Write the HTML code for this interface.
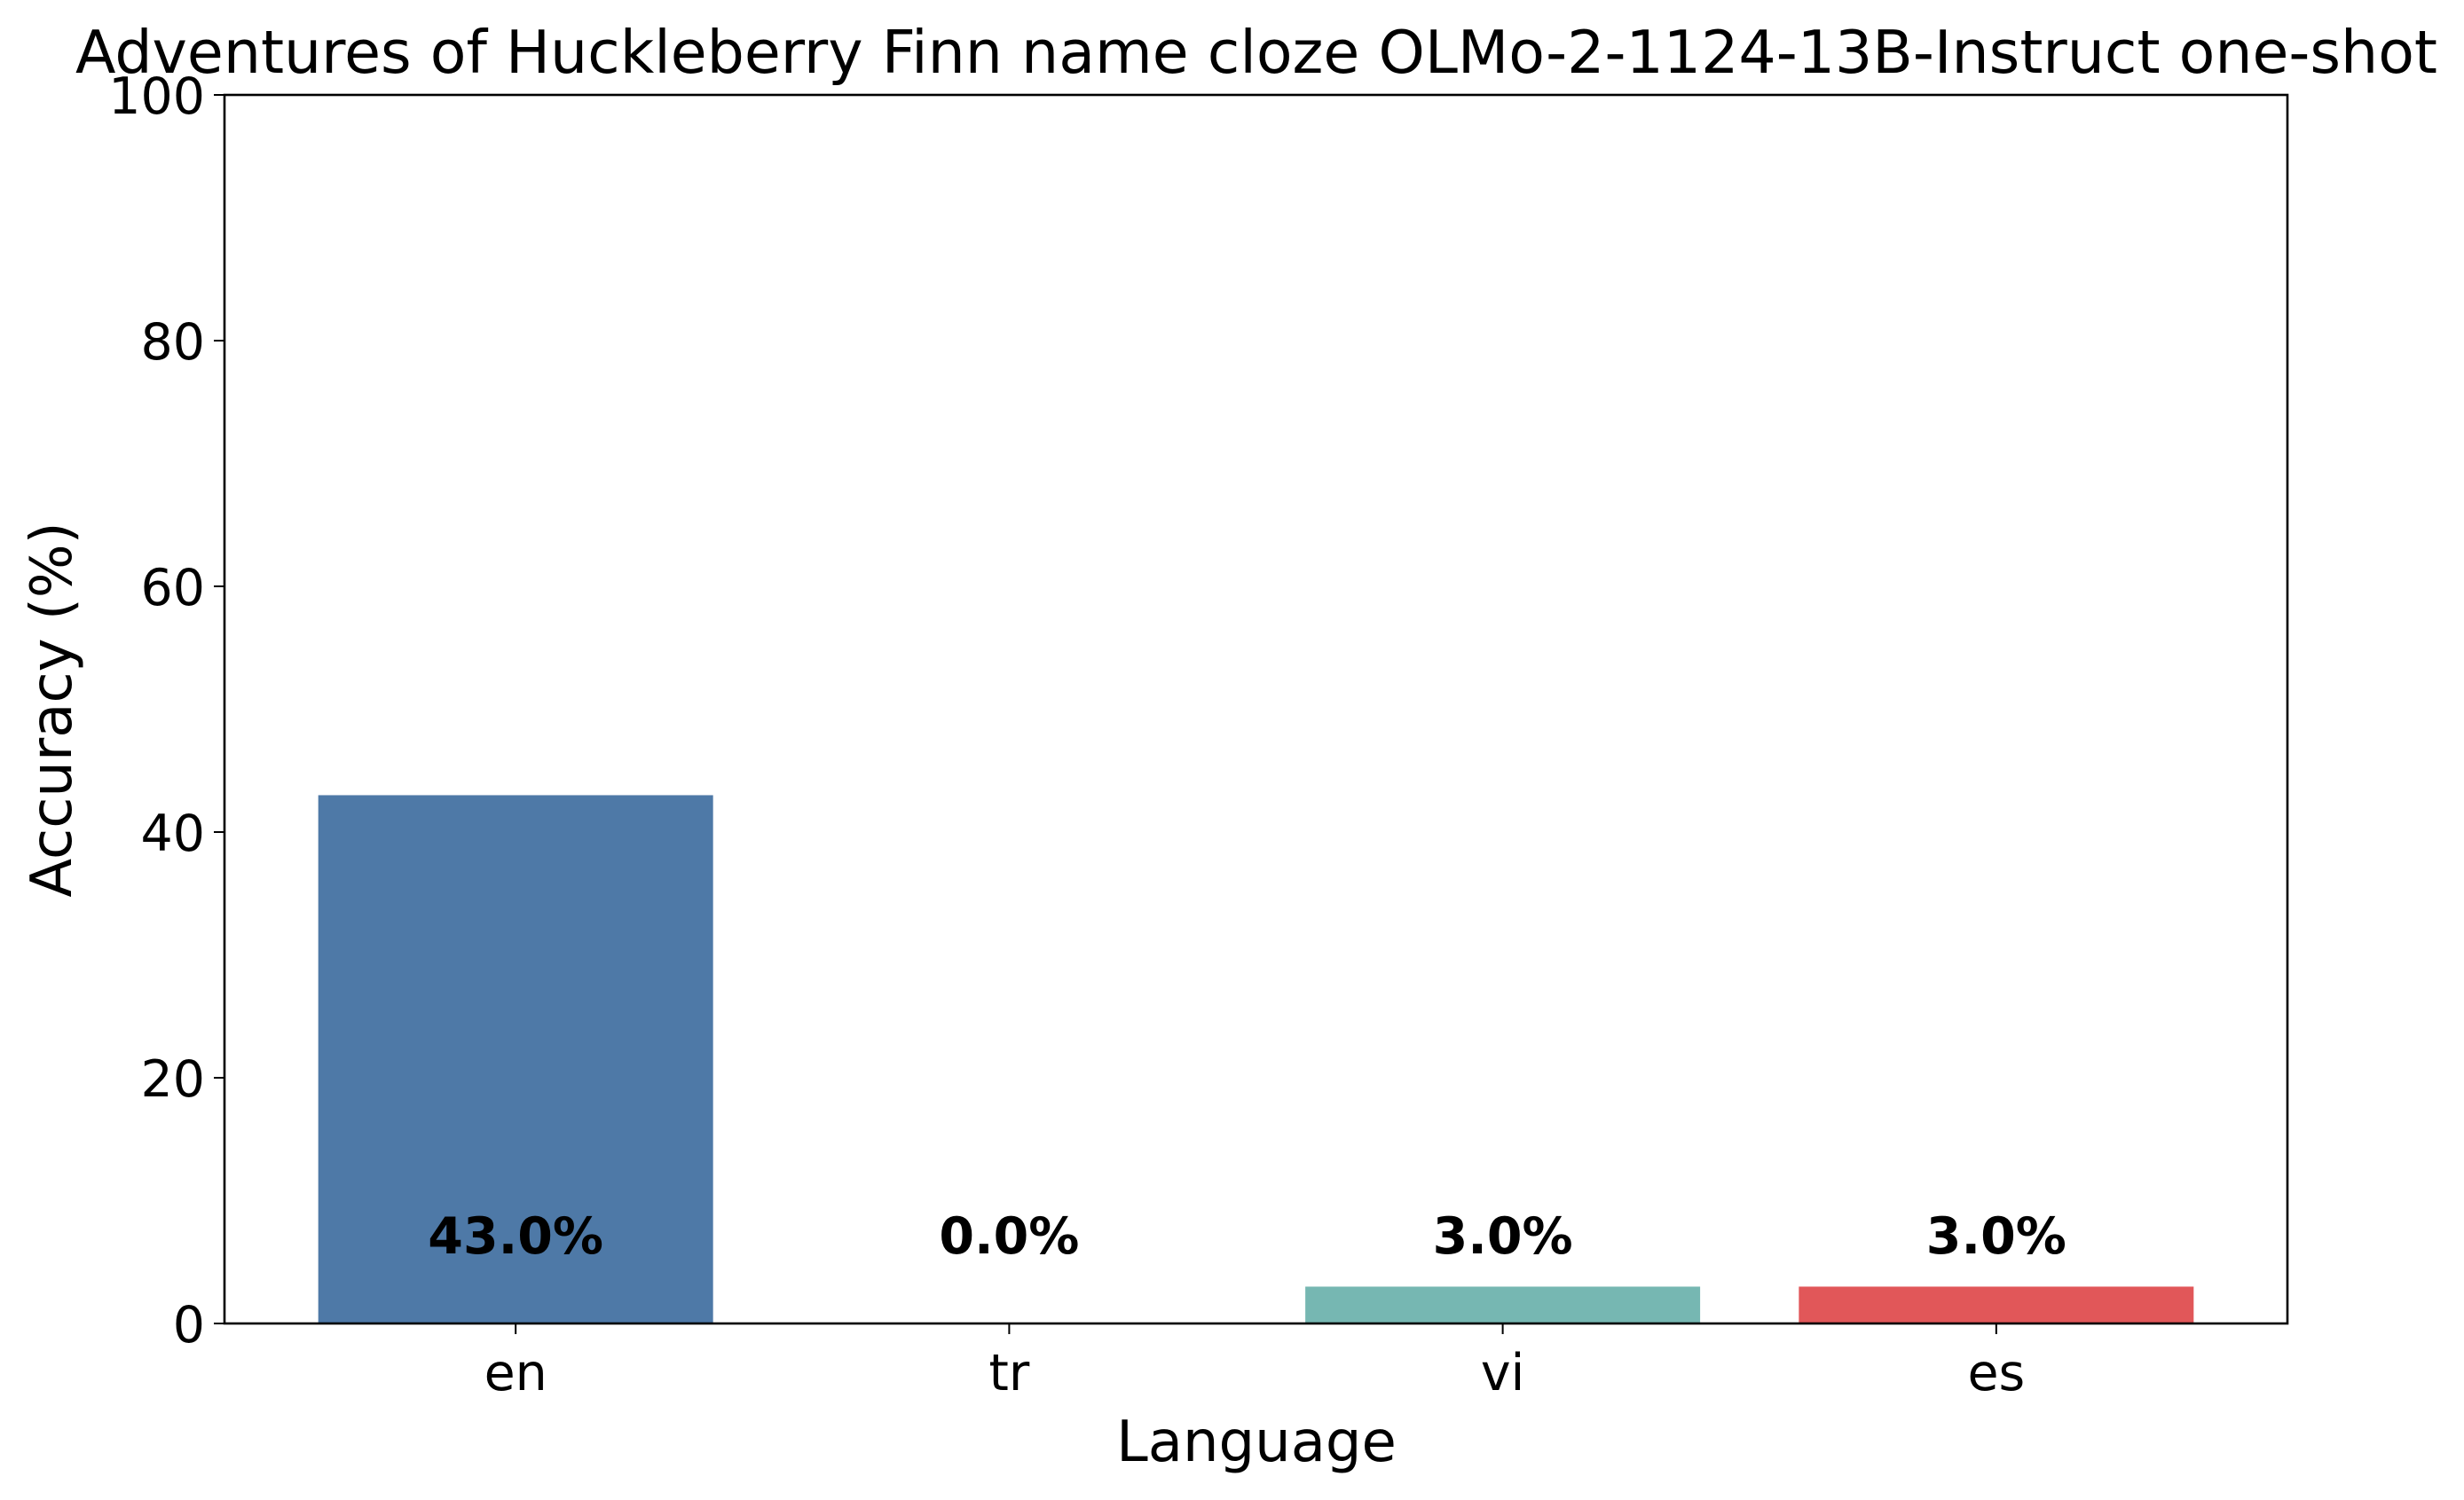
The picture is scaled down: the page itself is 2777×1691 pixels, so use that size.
<!DOCTYPE html>
<html><head><meta charset="utf-8"><style>
body{margin:0;background:#fff}
svg{display:block;font-family:"DejaVu Sans","Liberation Sans",sans-serif}
</style></head><body>
<svg id="chart" width="2777" height="1691" viewBox="0 0 2777 1691">
<rect width="2777" height="1691" fill="#fff"/>
<text x="1416" y="82" font-size="66.5" text-anchor="middle">Adventures of Huckleberry Finn name cloze OLMo-2-1124-13B-Instruct one-shot</text>
<g id="bars"></g>
<g id="yticks"></g>
<g id="xticks"></g>
<g id="labels"></g>
<rect x="253" y="107" width="2325" height="1385" fill="none" stroke="#000" stroke-width="2.6"/>
<text x="1416" y="1647" font-size="64" text-anchor="middle">Language</text>
<text transform="translate(80,800) rotate(-90)" font-size="64" text-anchor="middle">Accuracy (%)</text>
</svg>
<script>
const categories = ["en", "tr", "vi", "es"];
const values = [43.0, 0.0, 3.0, 3.0];
const valueLabels = ["43.0%", "0.0%", "3.0%", "3.0%"];
const yTicks = [0, 20, 40, 60, 80, 100];
const colors = ["#4e79a7", "#f28e2b", "#76b7b2", "#e15759"];

const NS = "http://www.w3.org/2000/svg";
const L = 253, R = 2578, T = 107, B = 1492;
const xMin = -0.59, xMax = 3.59, yMin = 0, yMax = 100;
function xs(v){ return L + (v - xMin) / (xMax - xMin) * (R - L); }
function ys(v){ return B - (v - yMin) / (yMax - yMin) * (B - T); }
function mk(tag, attrs, parent){
  const e = document.createElementNS(NS, tag);
  for (const k in attrs) e.setAttribute(k, attrs[k]);
  parent.appendChild(e);
  return e;
}
const gb = document.getElementById("bars");
const gx = document.getElementById("xticks");
const gy = document.getElementById("yticks");
const gl = document.getElementById("labels");
const bw = 0.8;
categories.forEach((c, i) => {
  const x0 = xs(i - bw/2), x1 = xs(i + bw/2);
  const r = mk("rect", {x: x0, y: ys(values[i]), width: x1 - x0, height: ys(0) - ys(values[i]), fill: colors[i]}, gb);
  
  
  const t = mk("line", {x1: xs(i), x2: xs(i), y1: B, y2: B + 12, stroke: "#000", "stroke-width": 2}, gx);
  
  
  const tl = mk("text", {x: xs(i), y: 1567, "font-size": 57, "text-anchor": "middle"}, gx);
  tl.textContent = c;
  
  
  const vl = mk("text", {x: xs(i), y: ys(5.7), "font-size": 57, "font-weight": "bold", "text-anchor": "middle"}, gl);
  vl.textContent = valueLabels[i];
  
  
});
yTicks.forEach(v => {
  const t = mk("line", {x1: L - 12, x2: L, y1: ys(v), y2: ys(v), stroke: "#000", "stroke-width": 2}, gy);
  
  
  const tl = mk("text", {x: L - 22, y: ys(v) + 21, "font-size": 57, "text-anchor": "end"}, gy);
  tl.textContent = v;
  
  
});
</script>
</body></html>
